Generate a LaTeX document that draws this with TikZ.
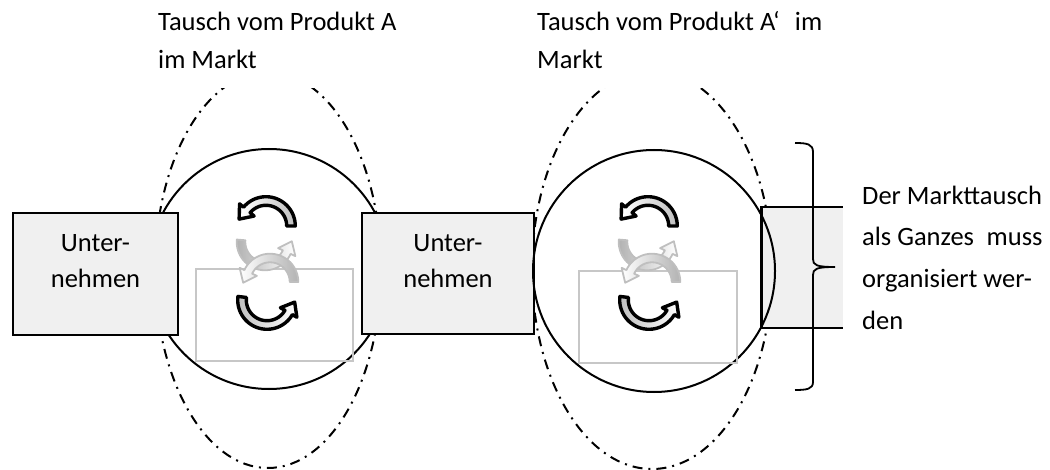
\documentclass[tikz,border=0pt]{standalone}
\usepackage{fontspec}
\setmainfont{Carlito}
\newcommand\txtfont{\fontsize{26.5}{36}\selectfont}
% curved block arrow: [style]{cx}{cy}{t1}{t2}{R}
\newcommand\curvarrow[6][]{%
  \pgfmathsetmacro\cArO{#6+4.3}\pgfmathsetmacro\cArI{#6-4.3}%
  \pgfmathsetmacro\cArHo{#6+9.5}\pgfmathsetmacro\cArHi{#6-9.5}%
  \pgfmathsetmacro\cArS{sign(#5-#4)}%
  \pgfmathsetmacro\cArTx{#2+#6*cos(#5)-\cArS*12*sin(#5)}%
  \pgfmathsetmacro\cArTy{#3+#6*sin(#5)+\cArS*12*cos(#5)}%
  \path[#1] plot[domain=#4:#5,samples=30] ({#2+\cArO*cos(\x)},{#3+\cArO*sin(\x)})
    -- ({#2+\cArHo*cos(#5)},{#3+\cArHo*sin(#5)})
    -- (\cArTx,\cArTy)
    -- ({#2+\cArHi*cos(#5)},{#3+\cArHi*sin(#5)})
    -- plot[domain=#5:#4,samples=30] ({#2+\cArI*cos(\x)},{#3+\cArI*sin(\x)}) -- cycle;}
\begin{document}
\begin{tikzpicture}[x=1pt,y=-1pt,
  box/.style={draw=black, line width=2.5, fill=black!6, inner sep=0pt},
  boxtext/.style={align=center, inner sep=0pt, font=\txtfont},
  ring/.style={draw=black, line width=2},
  dashdot/.style={draw=black, line width=2, dash pattern=on 10pt off 6pt on 2pt off 6pt},
  grayrect/.style={draw=black!22, line width=2},
  blk/.style={draw=black, line width=3.4, line join=round},
  gry/.style={draw=black!25, line width=1.8, line join=round},
  lbl/.style={anchor=base west, inner sep=0pt, font=\txtfont}]
\useasboundingbox (0,0) rectangle (1050,470);
% outer dash-dot ellipses
\draw[dashdot] (268,270) ellipse[x radius=113, y radius=198];
\draw[dashdot] (652,270) ellipse[x radius=120, y radius=199];
% circle 1
\draw[ring] (269,269) circle[radius=120];
% company boxes
\node[box, minimum width=165, minimum height=122] (u1) at (95.5,274) {};
\node[boxtext, anchor=base] (u1t) at (95.5,252) {Unter-};
\node[boxtext, anchor=base] (u1b) at (95.5,288) {nehmen};
\node[box, minimum width=172, minimum height=121] (u2) at (448,273.5) {};
\node[boxtext, anchor=base] (u2t) at (448,252) {Unter-};
\node[boxtext, anchor=base] (u2b) at (448,288) {nehmen};
\node[box, minimum width=300, minimum height=121, anchor=west] (u3) at (760,267.5) {};
% circle 2
\draw[ring] (654,271) circle[radius=121];
% inner gray rectangles
\draw[grayrect] (196,269) rectangle (353,361);
\draw[grayrect] (579,271) rectangle (737,363);
% exchange arrows, circle 1
\curvarrow[gry, left color=black!30, right color=white]{265}{242}{185}{25}{24}
\curvarrow[gry, left color=white, right color=black!30]{270}{282}{0}{-155}{24}
\curvarrow[blk, left color=white, right color=black!25]{266}{226}{0}{-140}{25}
\curvarrow[blk, left color=black!25, right color=white]{267}{300}{187}{30}{25}
% exchange arrows, circle 2
\begin{scope}[shift={(382,0)}]
\curvarrow[gry, left color=black!30, right color=white]{265}{242}{185}{25}{24}
\curvarrow[gry, left color=white, right color=black!30]{270}{282}{0}{-155}{24}
\curvarrow[blk, left color=white, right color=black!25]{266}{226}{0}{-140}{25}
\curvarrow[blk, left color=black!25, right color=white]{267}{300}{187}{30}{25}
\end{scope}
% white text backgrounds
\fill[white] (150,0) rectangle (420,88);
\fill[white] (528,0) rectangle (850,88);
\fill[white] (843,140) rectangle (1050,400);
% top labels
\node[lbl] (ta1) at (158,31) {Tausch vom Produkt A};
\node[lbl] (ta2) at (158,69) {im Markt};
\node[lbl] (tb1) at (537,31) {Tausch vom Produkt A‘\hspace{0.35em} im};
\node[lbl] (tb2) at (537,69) {Markt};
% right label
\node[lbl] (r1) at (862,204.5) {Der Markttausch};
\node[lbl] (r2) at (862,246) {als Ganzes\hspace{0.25em} muss};
\node[lbl] (r3) at (862,288) {organisiert wer-};
\node[lbl] (r4) at (862,329.5) {den};
% brace
\draw[line width=1.8] (795,143) .. controls (807,143) and (813,144) .. (813,152)
  -- (813,259) .. controls (813,265) and (816,267) .. (835,267)
  .. controls (816,267) and (813,269) .. (813,275)
  -- (813,382) .. controls (813,389) and (807,390) .. (795,390);
\end{tikzpicture}
\end{document}
